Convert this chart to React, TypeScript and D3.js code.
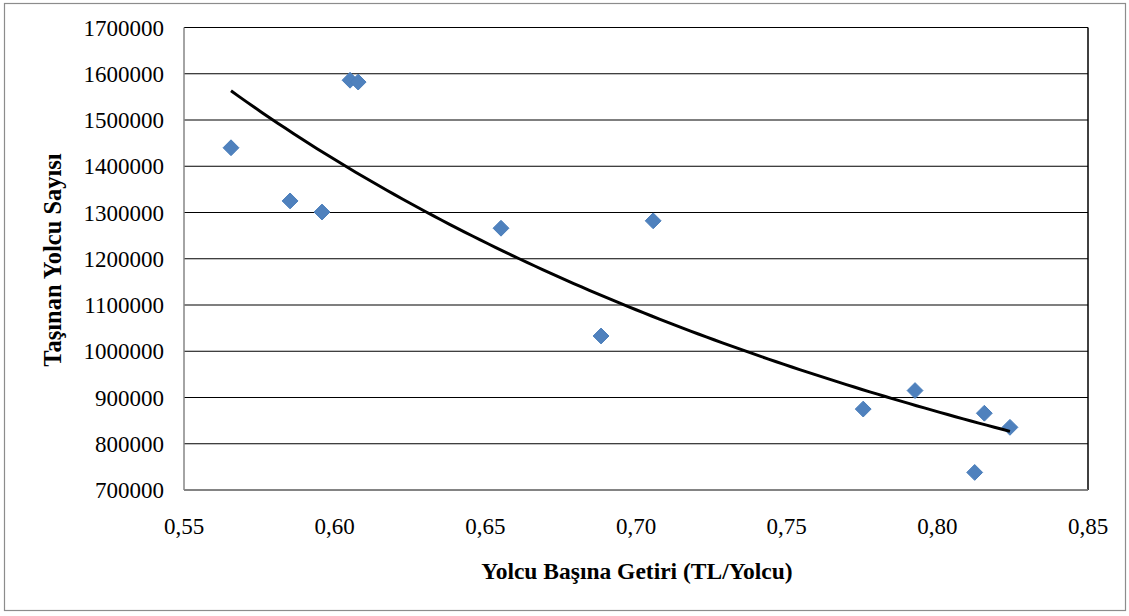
import React from "react";
import * as d3 from "d3";

const revenuePerPassenger = [0.5656, 0.5852, 0.5958, 0.6051, 0.6078, 0.6552, 0.6884, 0.7057, 0.7754, 0.7926, 0.8124, 0.8156, 0.8241];
const passengers = [1440000, 1325000, 1301000, 1586000, 1582000, 1266000, 1033000, 1282000, 875000, 915000, 738000, 866000, 835500];
const xTicks = [0.55, 0.6, 0.65, 0.7, 0.75, 0.8, 0.85];
const yTicks = [700000, 800000, 900000, 1000000, 1100000, 1200000, 1300000, 1400000, 1500000, 1600000, 1700000];
const xTitle = "Yolcu Başına Getiri (TL/Yolcu)";
const yTitle = "Taşınan Yolcu Sayısı";

const W = 1129, H = 616;
const L = 184, R = 1088, T = 27.5, B = 490;

export default function App() {
  const x = d3.scaleLinear().domain([0.55, 0.85]).range([L, R]);
  const y = d3.scaleLinear().domain([700000, 1700000]).range([B, T]);

  // power trendline y = a * x^b via least squares in log-log space
  const lx = revenuePerPassenger.map(Math.log);
  const ly = passengers.map(Math.log);
  const mx = d3.mean(lx)!;
  const my = d3.mean(ly)!;
  let sxy = 0, sxx = 0;
  lx.forEach((v, i) => { sxy += (v - mx) * (ly[i] - my); sxx += (v - mx) * (v - mx); });
  const b = sxy / sxx;
  const a = Math.exp(my - b * mx);
  const [x0, x1] = d3.extent(revenuePerPassenger) as [number, number];
  const trend = d3.range(0, 101).map(i => {
    const xv = x0 + (x1 - x0) * i / 100;
    return [xv, a * Math.pow(xv, b)] as [number, number];
  });
  const line = d3.line<[number, number]>().x(d => x(d[0])).y(d => y(d[1]));
  const diamond = d3.symbol().type(d3.symbolDiamond2).size(160)();
  const fmt = (v: number) => v.toFixed(2).replace(".", ",");

  return (
    <svg width={W} height={H} style={{ position: "absolute", left: 0, top: 0, background: "#fff" }}
      fontFamily="'Liberation Serif', 'Times New Roman', serif">
      <rect x={4.5} y={3.5} width={1121} height={607} fill="#fff" stroke="#8c8c8c" strokeWidth={1.2} />
      {yTicks.map(t => (
        <line key={t} x1={L} x2={R} y1={y(t)} y2={y(t)} stroke="#000" strokeWidth={1.2} />
      ))}
      <line x1={R} x2={R} y1={T} y2={B} stroke="#000" strokeWidth={1.5} />
      <line x1={L} x2={L} y1={T} y2={B} stroke="#868686" strokeWidth={1.5} />
      <line x1={L} x2={R} y1={B} y2={B} stroke="#868686" strokeWidth={1.5} />
      {yTicks.map(t => (
        <text key={t} x={L - 20} y={y(t)} dy="0.35em" textAnchor="end" fontSize={23} fill="#000">{t}</text>
      ))}
      {xTicks.map(t => (
        <text key={t} x={x(t)} y={534} textAnchor="middle" fontSize={23} fill="#000">{fmt(t)}</text>
      ))}
      {revenuePerPassenger.map((v, i) => (
        <path key={i} d={diamond!} transform={`translate(${x(v)},${y(passengers[i])})`} fill="#4F81BD" stroke="#4A7EBB" strokeWidth={1} />
      ))}
      <path d={line(trend)!} fill="none" stroke="#000" strokeWidth={3} />
      <text x={637} y={579} textAnchor="middle" fontSize={23.5} fontWeight="bold" fill="#000">{xTitle}</text>
      <text transform="translate(61,260) rotate(-90)" textAnchor="middle" fontSize={24.5} fontWeight="bold" fill="#000">{yTitle}</text>
    </svg>
  );
}
